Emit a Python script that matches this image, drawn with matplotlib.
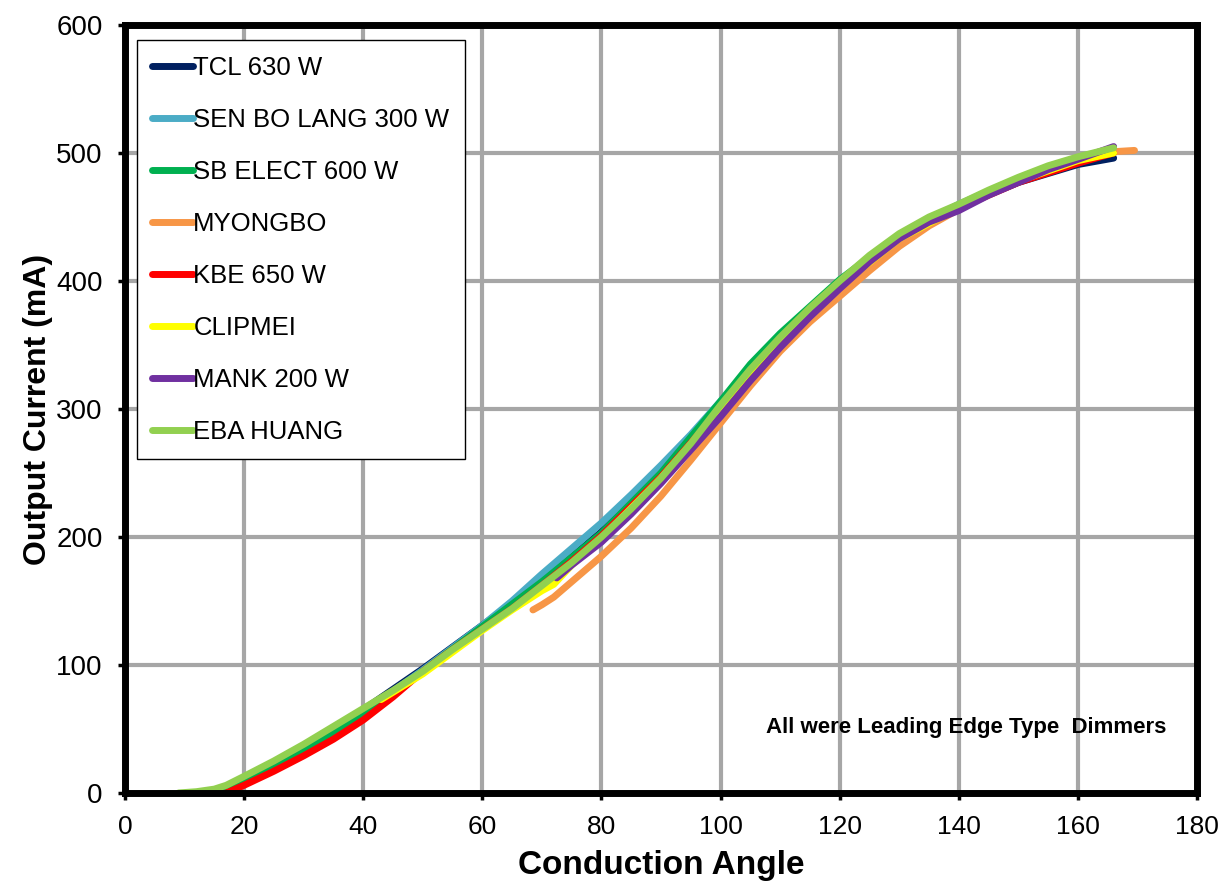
import matplotlib.pyplot as plt
from matplotlib import font_manager

names = {f.name for f in font_manager.fontManager.ttflist}
narrow = "Liberation Sans Narrow" if "Liberation Sans Narrow" in names else "Liberation Sans"
plt.rcParams["font.family"] = ["Liberation Sans", "DejaVu Sans"]

# data
tcl_x = [17, 20, 30, 40, 50, 60, 65, 70, 80, 90, 100, 110, 120, 130, 140, 150, 160, 166]
tcl_y = [3, 11, 36, 65, 97, 131, 148, 165, 204, 252, 303, 355, 398, 435, 458, 477, 491, 496]

senbo_x = [20, 30, 40, 50, 60, 65, 70, 75, 80, 85, 90, 95, 100, 110, 120, 130, 140, 150, 160, 166]
senbo_y = [10, 34, 63, 96, 131, 150, 171, 191, 211, 233, 256, 280, 306, 357, 400, 436, 460, 480, 495, 503]

sbelect_x = [12, 15, 20, 30, 40, 50, 60, 70, 80, 90, 100, 105, 110, 120, 130, 140, 150, 160, 166]
sbelect_y = [0, 2, 10, 33, 62, 95, 130, 165, 203, 250, 306, 335, 359, 401, 436, 459, 479, 495, 503]

myongbo_x = [68.5, 70, 72, 75, 80, 85, 90, 95, 100, 105, 110, 115, 120, 125, 130, 135, 140, 145, 150, 155, 160, 166, 169.5]
myongbo_y = [143, 147, 153, 165, 185, 207, 232, 260, 289, 318, 345, 368, 388, 408, 427, 443, 456, 468, 479, 488, 495, 501, 502]

kbe_x = [17, 20, 25, 30, 35, 40, 45, 50, 55, 60, 65, 70, 75, 80, 90, 100, 110, 120, 130, 140, 150, 160, 166]
kbe_y = [0, 6, 17, 29, 42, 57, 75, 95, 112, 128, 144, 162, 181, 201, 247, 300, 352, 396, 434, 457, 477, 492, 500]

clipmei_x = [43, 50, 60, 65, 70, 72, 75, 80, 90, 100, 110, 120, 130, 140, 150, 160, 166]
clipmei_y = [73, 93, 127, 143, 158, 163, 178, 199, 246, 299, 351, 396, 433, 457, 478, 494, 500]

mank_x = [72.5, 75, 80, 85, 90, 95, 100, 105, 110, 115, 120, 125, 130, 135, 140, 145, 150, 155, 160, 166]
mank_y = [168, 178, 196, 218, 242, 268, 294, 322, 348, 372, 394, 415, 433, 446, 455, 467, 477, 487, 495, 505]

eba_x = [9, 12, 15, 17, 20, 25, 30, 35, 40, 45, 50, 55, 60, 65, 70, 75, 80, 85, 90, 95, 100, 105, 110, 115, 120, 125, 130, 135, 140, 145, 150, 155, 160, 166]
eba_y = [0, 1, 3, 6, 13, 25, 38, 52, 66, 80, 95, 112, 128, 144, 162, 180, 200, 222, 246, 273, 303, 331, 356, 379, 400, 420, 437, 450, 460, 471, 481, 490, 497, 504]

series = [
    ("TCL 630 W", tcl_x, tcl_y, "#002060"),
    ("SEN BO LANG 300 W", senbo_x, senbo_y, "#4BACC6"),
    ("SB ELECT 600 W", sbelect_x, sbelect_y, "#00B050"),
    ("MYONGBO", myongbo_x, myongbo_y, "#F79646"),
    ("KBE 650 W", kbe_x, kbe_y, "#FF0000"),
    ("CLIPMEI", clipmei_x, clipmei_y, "#FFFF00"),
    ("MANK 200 W", mank_x, mank_y, "#7030A0"),
    ("EBA HUANG", eba_x, eba_y, "#92D050"),
]

fig = plt.figure(figsize=(12.3, 8.86), dpi=100)
ax = fig.add_axes([0.1016, 0.105, 0.8716, 0.8668])

for label, x, y, c in series:
    ax.plot(x, y, color=c, lw=5, label=label, solid_capstyle="round",
            solid_joinstyle="round")

ax.set_xlim(0, 180)
ax.set_ylim(0, 600)
ax.set_xticks(range(0, 181, 20))
ax.set_yticks(range(0, 601, 100))
ax.grid(True, color="#A6A6A6", lw=3)
ax.set_axisbelow(True)
for s in ax.spines.values():
    s.set_linewidth(5)
    s.set_color("black")
ax.tick_params(direction="out", length=5, width=2.5)
ax.tick_params(axis="x", pad=11)
ax.tick_params(axis="y", pad=11)
for t in ax.get_xticklabels():
    t.set_fontsize(19)
    t.set_family(narrow)
for t in ax.get_yticklabels():
    t.set_fontsize(20)

ax.set_xlabel("Conduction Angle", fontsize=24, fontweight="bold", family=narrow, labelpad=8)
ax.set_ylabel("Output Current (mA)", fontsize=23, fontweight="bold", family=narrow, labelpad=2)

ax.text(141.2, 51, "All were Leading Edge Type  Dimmers", fontsize=16,
        fontweight="bold", ha="center", va="center")

leg = ax.legend(loc="upper left", bbox_to_anchor=(0.011, 0.98), fontsize=18.5,
                frameon=True, fancybox=False, edgecolor="black",
                handlelength=1.6, handletextpad=0.0, labelspacing=1.09,
                borderpad=0.6, borderaxespad=0)
leg.get_frame().set_linewidth(1)
leg.get_frame().set_alpha(1)

fig.savefig("out.png", dpi=100)
